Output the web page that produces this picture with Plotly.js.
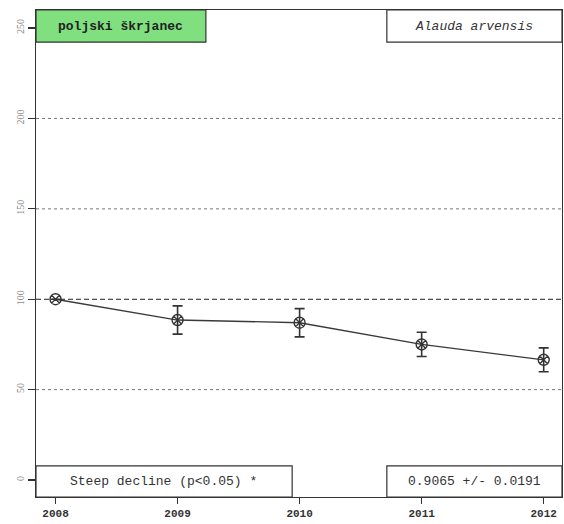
<!DOCTYPE html>
<html>
<head>
<meta charset="utf-8">
<script src="https://cdn.plot.ly/plotly-3.0.1.min.js"></script>
<style>html,body{margin:0;padding:0;background:#fff;}#chart{width:564px;height:524px;}</style>
</head>
<body>
<div id="chart"></div>
<script>
// Data
const years = [2008, 2009, 2010, 2011, 2012];
const index = [100, 88.5, 87, 75, 66.5];
const errors = [0, 7.8, 7.8, 6.7, 6.6];
const yTicks = [0, 50, 100, 150, 200, 250];
const xTicks = [2008, 2009, 2010, 2011, 2012];
const gridValues = [50, 150, 200];
const baseline = 100;
const nameLocal = "poljski škrjanec";
const nameLatin = "Alauda arvensis";
const trendText = "Steep decline (p<0.05) *";
const slopeText = "0.9065 +/- 0.0191";

const trace = {
  x: years, y: index, type: 'scatter', mode: 'lines+markers',
  line: {color: '#3a3a3a', width: 1.3},
  marker: {symbol: 'circle-x-open', size: 11, color: '#333', line: {width: 1.4, color: '#333'}},
  error_y: {type: 'data', array: errors, visible: true, color: '#333', thickness: 1.6, width: 5},
  hoverinfo: 'skip', showlegend: false
};

const shapes = [];
gridValues.forEach(v => shapes.push({type: 'line', xref: 'paper', x0: 0, x1: 1, yref: 'y', y0: v, y1: v,
  line: {color: '#777', width: 1, dash: 'dot'}, layer: 'below'}));
shapes.push({type: 'line', xref: 'paper', x0: 0, x1: 1, yref: 'y', y0: baseline, y1: baseline,
  line: {color: '#222', width: 1.2, dash: '5px,3px'}, layer: 'below'});
// label boxes
const boxLine = {color: '#333', width: 1.2};
shapes.push({type: 'rect', xref: 'paper', yref: 'paper', x0: 0, x1: 0.323, y0: 0.934, y1: 1, fillcolor: '#80e080', line: boxLine});
shapes.push({type: 'rect', xref: 'paper', yref: 'paper', x0: 0.667, x1: 1, y0: 0.934, y1: 1, fillcolor: '#fff', line: boxLine});
shapes.push({type: 'rect', xref: 'paper', yref: 'paper', x0: 0, x1: 0.487, y0: 0, y1: 0.064, fillcolor: '#fff', line: boxLine});
shapes.push({type: 'rect', xref: 'paper', yref: 'paper', x0: 0.667, x1: 1, y0: 0, y1: 0.064, fillcolor: '#fff', line: boxLine});

const mono = '"Liberation Mono", "DejaVu Sans Mono", monospace';
const annFont = {family: mono, size: 13, color: '#333'};
const annotations = [
  {xref: 'paper', yref: 'paper', x: 0.1615, y: 0.967, text: nameLocal, showarrow: false, font: {family: mono, size: 13, color: '#222', weight: 'bold'}, xanchor: 'center', yanchor: 'middle'},
  {xref: 'paper', yref: 'paper', x: 0.8335, y: 0.967, text: '<i>' + nameLatin + '</i>', showarrow: false, font: annFont, xanchor: 'center', yanchor: 'middle'},
  {xref: 'paper', yref: 'paper', x: 0.243, y: 0.032, text: trendText, showarrow: false, font: annFont, xanchor: 'center', yanchor: 'middle'},
  {xref: 'paper', yref: 'paper', x: 0.8335, y: 0.032, text: slopeText, showarrow: false, font: annFont, xanchor: 'center', yanchor: 'middle'}
];

const layout = {
  width: 564, height: 524,
  margin: {l: 36, r: 2, t: 10, b: 27, pad: 0},
  paper_bgcolor: '#fff', plot_bgcolor: '#fff',
  showlegend: false,
  xaxis: {
    range: [2007.84, 2012.15], tickmode: 'array', tickvals: xTicks, ticktext: xTicks.map(String),
    ticks: 'outside', ticklen: 6, tickcolor: '#333', tickwidth: 1.2,
    showgrid: false, zeroline: false, showline: true, linecolor: '#333', linewidth: 1.2, mirror: true,
    tickfont: {family: mono, size: 11, color: '#333', weight: 'bold'}
  },
  yaxis: {
    range: [-9.4, 260], tickmode: 'array', tickvals: yTicks, ticktext: yTicks.map(String),
    ticks: 'outside', ticklen: 7, tickcolor: '#333', tickwidth: 1.2, tickangle: -90,
    showgrid: false, zeroline: false, showline: true, linecolor: '#333', linewidth: 1.2, mirror: true,
    tickfont: {family: '"Liberation Serif", "DejaVu Serif", serif', size: 10, color: '#888'}
  },
  shapes: shapes,
  annotations: annotations
};

Plotly.newPlot('chart', [trace], layout, {displayModeBar: false, staticPlot: true});
</script>
</body>
</html>
